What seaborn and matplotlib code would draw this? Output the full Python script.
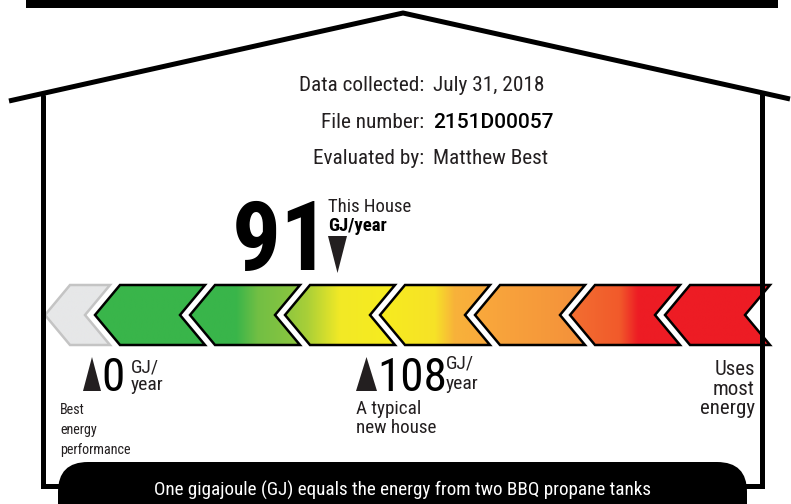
import numpy as np
import seaborn as sns
import matplotlib.pyplot as plt
from matplotlib.patches import Polygon, FancyBboxPatch
from matplotlib.colors import to_rgb

# Label values
info_labels = ["Data collected:", "File number:", "Evaluated by:"]
info_values = ["July 31, 2018", "2151D00057", "Matthew Best"]
this_house_gj = 91
typical_gj = 108
best_gj = 0
footer = "One gigajoule (GJ) equals the energy from two BBQ propane tanks"

# colour stops for each chevron of the rating bar (left -> right)
band_stops = [
    [(0, "#e6e7e8"), (1, "#e6e7e8")],
    [(0, "#39b54a"), (1, "#39b54a")],
    [(0, "#39b54a"), (0.42, "#39b54a"), (0.62, "#72bf44"), (1, "#8dc63f")],
    [(0, "#8dc63f"), (0.2, "#a9cf38"), (0.5, "#f2e926"), (1, "#f7ec1f")],
    [(0, "#f7ec1f"), (0.5, "#f6e227"), (0.68, "#f8b23a"), (1, "#f8a83c")],
    [(0, "#f9a93c"), (1, "#f4903a")],
    [(0, "#f36f31"), (0.45, "#f15a2b"), (0.62, "#ed1c24"), (1, "#ed1c24")],
    [(0, "#ed1c24"), (1, "#ed1c24")],
]

sns.set_theme(style="white")
plt.rcParams["font.family"] = ["Roboto Condensed", "DejaVu Sans"]

fig = plt.figure(figsize=(7.91, 5.04), dpi=100)
ax = fig.add_axes([0, 0, 1, 1])

# house outline
ax.fill_between([26, 778], 0, 8, color="black", lw=0)
ax.plot([9, 403, 790], [101, 13, 99], color="black", lw=3.6, solid_capstyle="butt")
ax.plot([43, 43, 762, 762], [96, 486, 486, 93], color="black", lw=3.6,
        solid_joinstyle="miter")

# info block
for i, (lab, val) in enumerate(zip(info_labels, info_values)):
    y = [91, 128, 164][i]
    ax.text(424, y, lab, ha="right", va="baseline", fontsize=15.3, color="#231f20")
    if lab.startswith("File"):
        ax.text(433, y, val, ha="left", va="baseline", fontsize=15,
                family=["Roboto", "DejaVu Sans"], weight="medium", color="black")
    else:
        ax.text(433, y, val, ha="left", va="baseline", fontsize=15.3, color="#231f20")

# this house marker
ax.text(281, 270, str(this_house_gj), ha="center", va="baseline", fontsize=70,
        weight="bold", color="black")
ax.text(328, 212, "This House", ha="left", va="baseline", fontsize=13.5, color="#231f20")
ax.text(328, 231, "GJ/year", ha="left", va="baseline", fontsize=13.5, weight="bold",
        color="black")
ax.add_patch(Polygon([(328, 236), (347, 236), (337.5, 273)], color="#231f20", lw=0))

# rating bar of chevrons
top, mid, bot, d = 285, 315, 345, 25
for i, stops in enumerate(band_stops):
    if i == 0:
        t, w = 45, 65
    elif i == len(band_stops) - 1:
        t, w = 665, 105
    else:
        t, w = 95 + 95 * (i - 1), 110
    pts = [(t, mid), (t + d, top), (t + w, top), (t + w - d, mid), (t + w, bot), (t + d, bot)]
    pos = [s[0] for s in stops]
    cols = np.array([to_rgb(s[1]) for s in stops])
    xs = np.linspace(0, 1, 200)
    img = np.stack([np.interp(xs, pos, cols[:, k]) for k in range(3)], axis=-1)[None]
    im = ax.imshow(img, extent=[t, t + w, bot, top], aspect="auto", interpolation="bilinear")
    clip = Polygon(pts, closed=True, transform=ax.transData)
    im.set_clip_path(clip)
    edge = "#c4c4c4" if i == 0 else "black"
    ax.add_patch(Polygon(pts, closed=True, fill=False, ec=edge, lw=1.8, joinstyle="miter"))

# best marker
ax.add_patch(Polygon([(83, 391), (101, 391), (92, 357)], color="#231f20", lw=0))
ax.text(101, 391, str(best_gj), ha="left", va="baseline", fontsize=34, color="black")
ax.text(131, 372, "GJ/", ha="left", va="baseline", fontsize=14, color="#231f20")
ax.text(131, 390, "year", ha="left", va="baseline", fontsize=14, color="#231f20")
for y, s in zip([414, 434, 454], ["Best", "energy", "performance"]):
    ax.text(60, y, s, ha="left", va="baseline", fontsize=10.2, color="#231f20")

# typical new house marker
ax.add_patch(Polygon([(356, 391), (377, 391), (366.5, 357)], color="#231f20", lw=0))
ax.text(377, 391, str(typical_gj), ha="left", va="baseline", fontsize=34, color="black")
ax.text(446, 369, "GJ/", ha="left", va="baseline", fontsize=14, color="#231f20")
ax.text(446, 389, "year", ha="left", va="baseline", fontsize=14, color="#231f20")
ax.text(356, 414, "A typical", ha="left", va="baseline", fontsize=13.8, color="#231f20")
ax.text(356, 433, "new house", ha="left", va="baseline", fontsize=13.8, color="#231f20")

for y, s in zip([375, 395, 414], ["Uses", "most", "energy"]):
    ax.text(755, y, s, ha="right", va="baseline", fontsize=15, color="#231f20")

# footer pill
ax.add_patch(FancyBboxPatch((58, 462), 689, 80,
                            boxstyle="round,pad=0,rounding_size=30",
                            fc="black", ec="none"))
ax.text(402, 496, footer, ha="center", va="baseline", fontsize=13.8, color="white")

ax.set_xlim(0, 791)
ax.set_ylim(504, 0)
ax.axis("off")
sns.despine(left=True, bottom=True)

fig.savefig("out.png", dpi=100)
